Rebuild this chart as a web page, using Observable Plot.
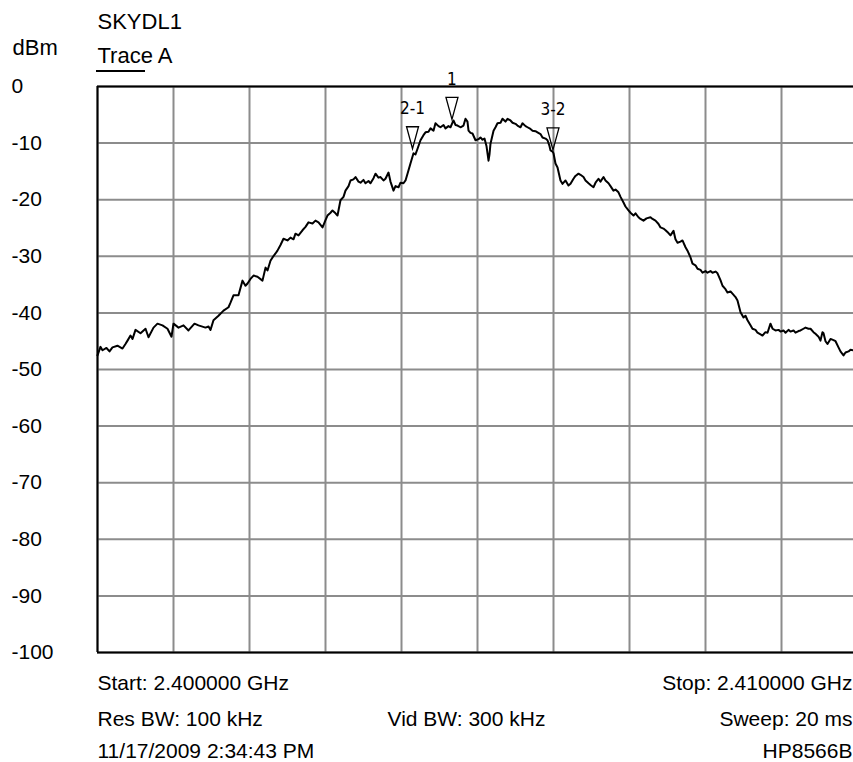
<!DOCTYPE html>
<html><head><meta charset="utf-8">
<script src="https://cdn.jsdelivr.net/npm/d3@7"></script>
<script src="https://cdn.jsdelivr.net/npm/@observablehq/plot@0.6"></script>
<style>html,body{margin:0;padding:0;background:#fff;overflow:hidden}</style>
</head><body><div id="chart"></div>
<script>
// Frequency offset from start (MHz) and level (dBm) of Trace A
const freqOffsetMHz = [0,0.039,0.066,0.118,0.158,0.197,0.263,0.329,0.368,0.395,0.434,0.461,0.5,0.566,0.632,0.671,0.737,0.789,0.855,0.921,0.974,1.0,1.066,1.132,1.197,1.276,1.329,1.421,1.461,1.487,1.526,1.592,1.658,1.724,1.75,1.789,1.855,1.908,1.947,1.974,2.013,2.053,2.105,2.171,2.211,2.237,2.276,2.303,2.342,2.368,2.408,2.447,2.5,2.539,2.579,2.605,2.645,2.697,2.737,2.776,2.829,2.868,2.908,2.961,3.0,3.026,3.066,3.092,3.132,3.158,3.197,3.237,3.263,3.303,3.329,3.368,3.395,3.434,3.461,3.5,3.526,3.566,3.592,3.632,3.658,3.697,3.724,3.763,3.789,3.829,3.855,3.895,3.921,3.961,3.987,4.026,4.053,4.079,4.118,4.158,4.184,4.211,4.25,4.289,4.316,4.355,4.382,4.421,4.447,4.487,4.513,4.553,4.579,4.618,4.645,4.671,4.684,4.711,4.737,4.776,4.816,4.842,4.868,4.882,4.908,4.934,4.974,5.013,5.039,5.066,5.092,5.118,5.145,5.158,5.171,5.211,5.237,5.263,5.303,5.329,5.368,5.395,5.434,5.461,5.5,5.526,5.566,5.592,5.632,5.658,5.697,5.724,5.763,5.789,5.829,5.855,5.895,5.921,5.947,5.961,5.987,6.0,6.026,6.053,6.092,6.118,6.158,6.197,6.224,6.263,6.289,6.329,6.355,6.395,6.421,6.461,6.487,6.526,6.553,6.592,6.618,6.658,6.684,6.724,6.75,6.789,6.816,6.855,6.882,6.921,6.947,6.987,7.013,7.053,7.079,7.118,7.145,7.184,7.224,7.276,7.303,7.342,7.382,7.408,7.447,7.474,7.513,7.539,7.579,7.605,7.632,7.671,7.697,7.737,7.763,7.803,7.829,7.868,7.895,7.934,7.961,8.0,8.026,8.066,8.092,8.132,8.158,8.197,8.224,8.263,8.289,8.329,8.355,8.395,8.421,8.461,8.5,8.526,8.553,8.592,8.618,8.658,8.684,8.724,8.75,8.789,8.816,8.855,8.882,8.921,8.961,8.987,9.026,9.053,9.092,9.118,9.158,9.184,9.224,9.25,9.289,9.316,9.355,9.382,9.421,9.447,9.487,9.513,9.539,9.553,9.579,9.605,9.645,9.684,9.711,9.75,9.776,9.816,9.842,9.882,9.908,9.947,10.0];
const levelDbm = [-47.5,-46.0,-46.6,-46.2,-46.8,-46.1,-45.8,-46.3,-45.5,-44.9,-44.0,-44.6,-43.0,-43.6,-42.8,-44.3,-42.6,-41.9,-42.2,-42.8,-44.2,-41.9,-42.6,-42.2,-43.1,-41.9,-42.2,-42.6,-42.4,-43.0,-41.3,-40.5,-39.6,-39.0,-38.2,-36.9,-36.9,-34.3,-35.2,-34.8,-34.0,-33.4,-33.6,-34.3,-32.0,-32.5,-30.8,-30.2,-29.5,-29.0,-28.0,-26.9,-27.2,-26.7,-27.0,-26.0,-26.3,-25.4,-24.8,-24.0,-24.2,-23.7,-24.0,-24.9,-23.6,-22.8,-22.3,-21.9,-22.4,-22.8,-20.1,-19.5,-18.4,-17.6,-16.6,-16.4,-16.0,-16.8,-17.0,-16.5,-17.1,-16.7,-17.1,-16.2,-15.4,-16.1,-16.0,-16.6,-16.3,-15.2,-16.8,-18.4,-17.6,-17.8,-17.0,-17.1,-16.6,-15.4,-13.6,-11.8,-12.0,-11.0,-9.5,-8.6,-8.1,-8.0,-7.4,-7.8,-6.5,-7.0,-7.2,-6.8,-7.4,-7.0,-7.2,-6.4,-6.0,-6.8,-6.9,-7.2,-6.9,-5.7,-6.2,-7.8,-8.2,-8.3,-9.5,-9.3,-9.0,-9.4,-9.2,-10.5,-13.1,-12.0,-10.1,-7.8,-7.2,-6.5,-6.4,-5.7,-6.2,-5.7,-6.0,-6.4,-6.6,-6.9,-7.2,-6.5,-7.0,-7.2,-7.5,-7.8,-7.9,-8.1,-8.4,-9.0,-9.2,-9.5,-10.5,-11.3,-11.5,-11.8,-13.6,-14.3,-16.6,-17.2,-16.6,-17.5,-17.2,-16.3,-15.8,-15.4,-15.6,-16.0,-16.6,-17.1,-17.4,-17.8,-17.0,-16.3,-16.8,-16.0,-16.6,-17.1,-17.6,-18.4,-18.2,-18.7,-19.5,-20.5,-21.2,-21.9,-22.3,-22.8,-22.4,-23.1,-23.4,-23.7,-23.3,-23.1,-23.4,-23.7,-24.3,-24.9,-25.1,-25.4,-25.9,-26.3,-25.5,-27.0,-27.6,-27.4,-27.2,-28.4,-29.0,-30.2,-31.3,-31.6,-32.2,-32.4,-32.9,-32.6,-32.9,-32.6,-32.9,-32.7,-33.0,-34.2,-35.2,-35.8,-36.4,-36.2,-36.6,-37.2,-37.8,-39.9,-40.8,-40.5,-41.3,-42.2,-42.8,-43.0,-43.5,-43.8,-44.0,-43.4,-43.5,-41.9,-42.8,-43.1,-43.0,-43.3,-43.1,-43.5,-43.0,-43.3,-43.1,-43.5,-43.2,-43.1,-42.8,-42.6,-42.8,-42.8,-43.4,-43.7,-44.2,-44.9,-43.4,-43.6,-45.0,-45.5,-44.6,-44.8,-45.0,-46.1,-46.8,-47.5,-47.0,-46.8,-46.5,-46.6,-46.8];

const markerLabels = ["2-1", "1", "3-2"];
const markerOffsetMHz = [4.145, 4.664, 5.993];
const markerLevelDbm = [-11.0, -5.8, -11.2];

const yTickValues = [0, -10, -20, -30, -40, -50, -60, -70, -80, -90, -100];
const xGridOffsets = [0, 1, 2, 3, 4, 5, 6, 7, 8, 9, 10];

const titleText = "SKYDL1";
const unitText = "dBm";
const traceText = "Trace A";
const footerLeft = ["Start: 2.400000 GHz", "Res BW: 100 kHz", "11/17/2009 2:34:43 PM"];
const footerMid = ["Vid BW: 300 kHz"];
const footerRight = ["Stop: 2.410000 GHz", "Sweep: 20 ms", "HP8566B"];

const trace = freqOffsetMHz.map((f, i) => ({f, v: levelDbm[i]}));
const markers = markerLabels.map((label, i) => ({label, f: markerOffsetMHz[i], v: markerLevelDbm[i]}));

const downTriangle = {
  draw(ctx) {
    ctx.moveTo(-6, -22);
    ctx.lineTo(6, -22);
    ctx.lineTo(0, 0);
    ctx.closePath();
  }
};

const fontMain = "'Liberation Sans', Arial, sans-serif";
const fontNarrow = "'Liberation Sans Narrow', 'DejaVu Sans Condensed', 'Liberation Sans', sans-serif";

const chart = Plot.plot({
  width: 853,
  height: 762,
  marginLeft: 97,
  marginTop: 86,
  marginBottom: 110,
  marginRight: -4,
  x: {domain: [0, 10], range: [97, 857], axis: null},
  y: {domain: [-100, 0], range: [652, 86], axis: null},
  style: {fontFamily: fontMain, background: "white", color: "black", overflow: "hidden"},
  marks: [
    Plot.ruleX(xGridOffsets, {stroke: "#8c8c8c", strokeWidth: 2}),
    Plot.ruleY(yTickValues, {stroke: "#8c8c8c", strokeWidth: 2}),
    Plot.ruleX([0], {stroke: "black", strokeWidth: 2}),
    Plot.ruleY([0, -100], {stroke: "black", strokeWidth: 2}),
    Plot.line(trace, {x: "f", y: "v", stroke: "black", strokeWidth: 2, strokeLinejoin: "round"}),
    Plot.dot(markers, {x: "f", y: "v", symbol: downTriangle, fill: "none", stroke: "black", strokeWidth: 1.3, r: 5}),
    Plot.text(markers, {x: "f", y: "v", text: "label", dy: -40, fontSize: 17, fontFamily: fontNarrow, fill: "black"}),
    Plot.text(yTickValues, {x: 0, y: d => d, text: d => String(d), textAnchor: "start", dx: -86, fontSize: 21, fill: "black"}),
    Plot.text([titleText], {frameAnchor: "top-left", textAnchor: "start", lineAnchor: "bottom", dy: -58, fontSize: 22, fill: "black"}),
    Plot.text([unitText], {frameAnchor: "top-left", textAnchor: "start", lineAnchor: "bottom", dx: -85, dy: -32, fontSize: 22, fill: "black"}),
    Plot.text([traceText], {frameAnchor: "top-left", textAnchor: "start", lineAnchor: "bottom", dy: -24, fontSize: 22, fill: "black"}),
    Plot.text(footerLeft, {frameAnchor: "bottom-left", textAnchor: "start", lineAnchor: "bottom", fontSize: 21, fill: "black"}),
    Plot.text(footerMid, {frameAnchor: "bottom-left", textAnchor: "start", lineAnchor: "bottom", dx: 290, dy: 73, fontSize: 21, fill: "black"}),
    Plot.text(footerRight, {frameAnchor: "bottom-right", textAnchor: "end", lineAnchor: "bottom", dx: -5, fontSize: 21, fill: "black"})
  ]
});

// position footer rows (each row offset below the frame)
const rowDy = [37, 73, 105];
d3.select(chart).selectAll("text").each(function() {
  const t = this.textContent;
  let idx = footerLeft.indexOf(t);
  if (idx < 0) idx = footerRight.indexOf(t);
  if (idx >= 0) {
    const tr = d3.select(this).attr("transform") || "";
    d3.select(this).attr("transform", tr + ` translate(0,${rowDy[idx]})`);
  }
});
// legend swatch under "Trace A"
d3.select(chart).append("line")
  .attr("x1", 96).attr("x2", 145).attr("y1", 71).attr("y2", 71)
  .attr("stroke", "black").attr("stroke-width", 2);

document.getElementById("chart").appendChild(chart);
</script>
</body></html>
